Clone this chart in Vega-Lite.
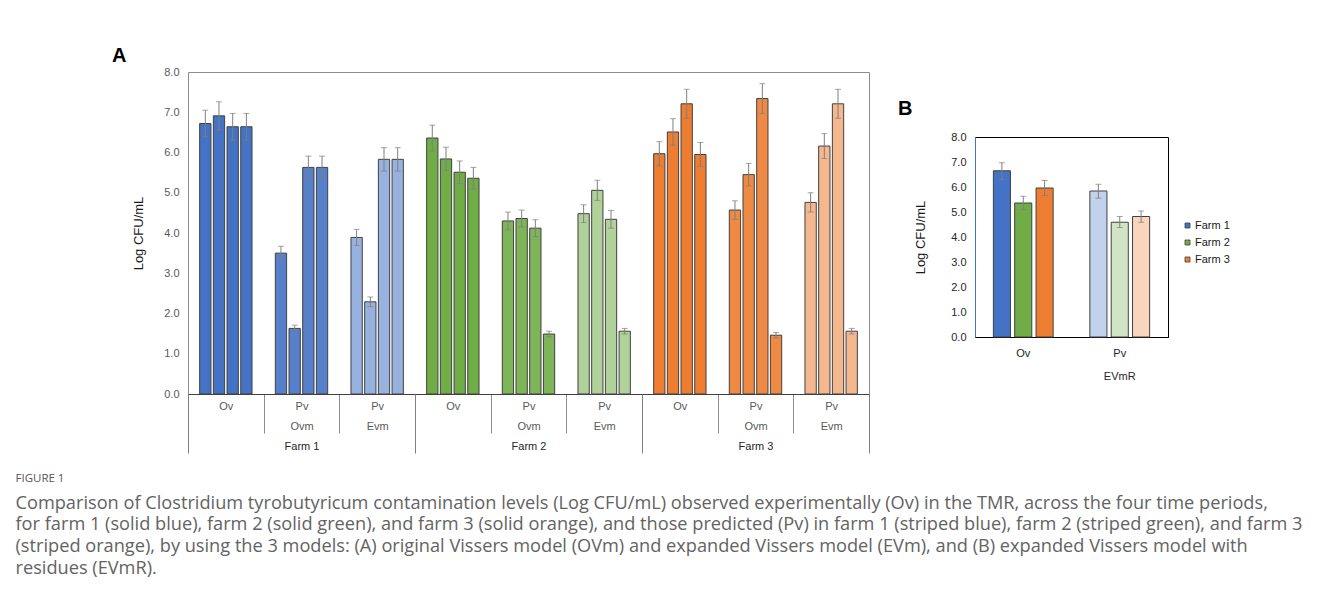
{
  "$schema": "https://vega.github.io/schema/vega-lite/v6.json",
  "background": "white",
  "padding": {"left": 15, "top": 45, "right": 0, "bottom": 12},
  "config": {
    "font": "Liberation Sans",
    "axis": {"grid": false},
    "axisY": {"tickCount": 9, "labelOverlap": false},
    "title": {"font": "Liberation Sans"}
  },
  "datasets": {
    "a": [
      {"farm": "Farm 1", "type": "Ov", "grp": "1|Ov", "period": 1, "v": 6.72, "lo": 6.39, "hi": 7.05},
      {"farm": "Farm 1", "type": "Ov", "grp": "1|Ov", "period": 2, "v": 6.91, "lo": 6.56, "hi": 7.26},
      {"farm": "Farm 1", "type": "Ov", "grp": "1|Ov", "period": 3, "v": 6.64, "lo": 6.31, "hi": 6.97},
      {"farm": "Farm 1", "type": "Ov", "grp": "1|Ov", "period": 4, "v": 6.64, "lo": 6.31, "hi": 6.97},
      {"farm": "Farm 1", "type": "Ovm", "grp": "1|Pv|Ovm", "period": 1, "v": 3.50, "lo": 3.33, "hi": 3.67},
      {"farm": "Farm 1", "type": "Ovm", "grp": "1|Pv|Ovm", "period": 2, "v": 1.63, "lo": 1.55, "hi": 1.71},
      {"farm": "Farm 1", "type": "Ovm", "grp": "1|Pv|Ovm", "period": 3, "v": 5.63, "lo": 5.35, "hi": 5.91},
      {"farm": "Farm 1", "type": "Ovm", "grp": "1|Pv|Ovm", "period": 4, "v": 5.63, "lo": 5.35, "hi": 5.91},
      {"farm": "Farm 1", "type": "Evm", "grp": "1|Pv|Evm", "period": 1, "v": 3.89, "lo": 3.69, "hi": 4.09},
      {"farm": "Farm 1", "type": "Evm", "grp": "1|Pv|Evm", "period": 2, "v": 2.29, "lo": 2.17, "hi": 2.41},
      {"farm": "Farm 1", "type": "Evm", "grp": "1|Pv|Evm", "period": 3, "v": 5.83, "lo": 5.54, "hi": 6.12},
      {"farm": "Farm 1", "type": "Evm", "grp": "1|Pv|Evm", "period": 4, "v": 5.83, "lo": 5.54, "hi": 6.12},
      {"farm": "Farm 2", "type": "Ov", "grp": "2|Ov", "period": 1, "v": 6.36, "lo": 6.04, "hi": 6.68},
      {"farm": "Farm 2", "type": "Ov", "grp": "2|Ov", "period": 2, "v": 5.84, "lo": 5.55, "hi": 6.13},
      {"farm": "Farm 2", "type": "Ov", "grp": "2|Ov", "period": 3, "v": 5.51, "lo": 5.23, "hi": 5.79},
      {"farm": "Farm 2", "type": "Ov", "grp": "2|Ov", "period": 4, "v": 5.36, "lo": 5.09, "hi": 5.63},
      {"farm": "Farm 2", "type": "Ovm", "grp": "2|Pv|Ovm", "period": 1, "v": 4.30, "lo": 4.08, "hi": 4.52},
      {"farm": "Farm 2", "type": "Ovm", "grp": "2|Pv|Ovm", "period": 2, "v": 4.36, "lo": 4.15, "hi": 4.57},
      {"farm": "Farm 2", "type": "Ovm", "grp": "2|Pv|Ovm", "period": 3, "v": 4.12, "lo": 3.91, "hi": 4.33},
      {"farm": "Farm 2", "type": "Ovm", "grp": "2|Pv|Ovm", "period": 4, "v": 1.49, "lo": 1.42, "hi": 1.56},
      {"farm": "Farm 2", "type": "Evm", "grp": "2|Pv|Evm", "period": 1, "v": 4.48, "lo": 4.26, "hi": 4.70},
      {"farm": "Farm 2", "type": "Evm", "grp": "2|Pv|Evm", "period": 2, "v": 5.06, "lo": 4.81, "hi": 5.31},
      {"farm": "Farm 2", "type": "Evm", "grp": "2|Pv|Evm", "period": 3, "v": 4.34, "lo": 4.12, "hi": 4.56},
      {"farm": "Farm 2", "type": "Evm", "grp": "2|Pv|Evm", "period": 4, "v": 1.56, "lo": 1.49, "hi": 1.63},
      {"farm": "Farm 3", "type": "Ov", "grp": "3|Ov", "period": 1, "v": 5.97, "lo": 5.67, "hi": 6.27},
      {"farm": "Farm 3", "type": "Ov", "grp": "3|Ov", "period": 2, "v": 6.51, "lo": 6.18, "hi": 6.84},
      {"farm": "Farm 3", "type": "Ov", "grp": "3|Ov", "period": 3, "v": 7.21, "lo": 6.85, "hi": 7.57},
      {"farm": "Farm 3", "type": "Ov", "grp": "3|Ov", "period": 4, "v": 5.95, "lo": 5.65, "hi": 6.25},
      {"farm": "Farm 3", "type": "Ovm", "grp": "3|Pv|Ovm", "period": 1, "v": 4.57, "lo": 4.34, "hi": 4.80},
      {"farm": "Farm 3", "type": "Ovm", "grp": "3|Pv|Ovm", "period": 2, "v": 5.45, "lo": 5.17, "hi": 5.73},
      {"farm": "Farm 3", "type": "Ovm", "grp": "3|Pv|Ovm", "period": 3, "v": 7.34, "lo": 6.97, "hi": 7.71},
      {"farm": "Farm 3", "type": "Ovm", "grp": "3|Pv|Ovm", "period": 4, "v": 1.46, "lo": 1.39, "hi": 1.53},
      {"farm": "Farm 3", "type": "Evm", "grp": "3|Pv|Evm", "period": 1, "v": 4.76, "lo": 4.52, "hi": 5.00},
      {"farm": "Farm 3", "type": "Evm", "grp": "3|Pv|Evm", "period": 2, "v": 6.16, "lo": 5.85, "hi": 6.47},
      {"farm": "Farm 3", "type": "Evm", "grp": "3|Pv|Evm", "period": 3, "v": 7.21, "lo": 6.85, "hi": 7.57},
      {"farm": "Farm 3", "type": "Evm", "grp": "3|Pv|Evm", "period": 4, "v": 1.56, "lo": 1.49, "hi": 1.63}
    ],
    "b": [
      {"farm": "Farm 1", "type": "Ov", "obs": "Ov", "v": 6.65, "lo": 6.30, "hi": 6.97},
      {"farm": "Farm 2", "type": "Ov", "obs": "Ov", "v": 5.36, "lo": 5.10, "hi": 5.63},
      {"farm": "Farm 3", "type": "Ov", "obs": "Ov", "v": 5.96, "lo": 5.66, "hi": 6.26},
      {"farm": "Farm 1", "type": "EVmR", "obs": "Pv|EVmR", "v": 5.84, "lo": 5.55, "hi": 6.11},
      {"farm": "Farm 2", "type": "EVmR", "obs": "Pv|EVmR", "v": 4.59, "lo": 4.38, "hi": 4.82},
      {"farm": "Farm 3", "type": "EVmR", "obs": "Pv|EVmR", "v": 4.82, "lo": 4.59, "hi": 5.04}
    ]
  },
  "title": {
    "text": "FIGURE 1",
    "subtitle": [
      "Comparison of Clostridium tyrobutyricum contamination levels (Log CFU/mL) observed experimentally (Ov) in the TMR, across the four time periods,",
      "for farm 1 (solid blue), farm 2 (solid green), and farm 3 (solid orange), and those predicted (Pv) in farm 1 (striped blue), farm 2 (striped green), and farm 3",
      "(striped orange), by using the 3 models: (A) original Vissers model (OVm) and expanded Vissers model (EVm), and (B) expanded Vissers model with",
      "residues (EVmR)."
    ],
    "orient": "bottom",
    "anchor": "start",
    "frame": "bounds",
    "offset": 19,
    "dx": -96,
    "font": "Open Sans",
    "fontSize": 11.5,
    "fontWeight": "normal",
    "color": "#555555",
    "subtitleFont": "Open Sans",
    "subtitleFontSize": 18.2,
    "subtitleColor": "#636363",
    "subtitleLineHeight": 21.7,
    "subtitlePadding": 10
  },
  "spacing": 27,
  "resolve": {"scale": {"fill": "independent", "fillOpacity": "independent", "xOffset": "independent"}},
  "hconcat": [
    {
      "width": 681,
      "height": 322,
      "title": {"text": "A", "anchor": "start", "frame": "group", "dx": -76, "fontSize": 20, "fontWeight": "bold", "color": "#000000", "offset": 0},
      "view": {"stroke": "#8c8c8c"},
      "data": {"name": "a"},
      "resolve": {"scale": {"x": "independent"}},
      "layer": [
        {
          "layer": [
            {
              "mark": {"type": "bar", "stroke": "#404040", "strokeWidth": 1},
              "encoding": {
                "x": {
                  "field": "grp", "type": "nominal",
                  "scale": {"type": "band", "domain": ["1|Ov", "1|Pv|Ovm", "1|Pv|Evm", "2|Ov", "2|Pv|Ovm", "2|Pv|Evm", "3|Ov", "3|Pv|Ovm", "3|Pv|Evm"], "paddingInner": 0, "paddingOuter": 0},
                  "axis": {
                    "title": null, "domainColor": "#404040", "domainWidth": 1,
                    "ticks": true, "tickBand": "extent", "tickSize": 39, "tickColor": "#8c8c8c", "tickWidth": 1,
                    "labelExpr": "slice(split(datum.label, '|'), 1)",
                    "labelAngle": 0, "labelBaseline": "top", "labelPadding": -32.5, "labelLineHeight": 19.5,
                    "labelFontSize": 11, "labelColor": "#595959"
                  }
                },
                "xOffset": {"field": "period", "type": "ordinal", "scale": {"paddingInner": 0.175, "paddingOuter": 0.85}},
                "y": {
                  "field": "v", "type": "quantitative",
                  "scale": {"domain": [0, 8], "nice": false},
                  "axis": {
                    "title": "Log CFU/mL", "titleFontSize": 13, "titleFontWeight": "normal", "titleColor": "#1a1a1a", "titlePadding": 18,
                    "values": [0, 1, 2, 3, 4, 5, 6, 7, 8], "tickCount": 9, "format": ".1f", "labelOverlap": false,
                    "labelFontSize": 11, "labelColor": "#595959", "labelPadding": 9, "ticks": false, "domain": false
                  }
                },
                "fill": {"field": "farm", "type": "nominal", "scale": {"domain": ["Farm 1", "Farm 2", "Farm 3"], "range": ["#4472C4", "#70AD47", "#ED7D31"]}, "legend": null},
                "fillOpacity": {"field": "type", "type": "nominal", "scale": {"type": "ordinal", "domain": ["Ov", "Ovm", "Evm"], "range": [1, 0.9, 0.55]}, "legend": null}
              }
            },
            {
              "mark": {"type": "rule", "color": "#7f7f7f", "strokeWidth": 1},
              "encoding": {
                "x": {"field": "grp", "type": "nominal", "scale": {"type": "band", "domain": ["1|Ov", "1|Pv|Ovm", "1|Pv|Evm", "2|Ov", "2|Pv|Ovm", "2|Pv|Evm", "3|Ov", "3|Pv|Ovm", "3|Pv|Evm"], "paddingInner": 0, "paddingOuter": 0}},
                "xOffset": {"field": "period", "type": "ordinal"},
                "y": {"field": "lo", "type": "quantitative", "scale": {"domain": [0, 8], "nice": false}},
                "y2": {"field": "hi"}
              }
            },
            {
              "mark": {"type": "tick", "color": "#7f7f7f", "thickness": 1, "size": 6, "orient": "horizontal"},
              "encoding": {
                "x": {"field": "grp", "type": "nominal", "scale": {"type": "band", "domain": ["1|Ov", "1|Pv|Ovm", "1|Pv|Evm", "2|Ov", "2|Pv|Ovm", "2|Pv|Evm", "3|Ov", "3|Pv|Ovm", "3|Pv|Evm"], "paddingInner": 0, "paddingOuter": 0}},
                "xOffset": {"field": "period", "type": "ordinal"},
                "y": {"field": "lo", "type": "quantitative", "scale": {"domain": [0, 8], "nice": false}}
              }
            },
            {
              "mark": {"type": "tick", "color": "#7f7f7f", "thickness": 1, "size": 6, "orient": "horizontal"},
              "encoding": {
                "x": {"field": "grp", "type": "nominal", "scale": {"type": "band", "domain": ["1|Ov", "1|Pv|Ovm", "1|Pv|Evm", "2|Ov", "2|Pv|Ovm", "2|Pv|Evm", "3|Ov", "3|Pv|Ovm", "3|Pv|Evm"], "paddingInner": 0, "paddingOuter": 0}},
                "xOffset": {"field": "period", "type": "ordinal"},
                "y": {"field": "hi", "type": "quantitative", "scale": {"domain": [0, 8], "nice": false}}
              }
            }
          ]
        },
        {
          "mark": {"type": "bar", "opacity": 0},
          "encoding": {
            "x": {
              "field": "farm", "type": "nominal",
              "scale": {"type": "band", "domain": ["Farm 1", "Farm 2", "Farm 3"], "paddingInner": 0, "paddingOuter": 0},
              "axis": {
                "orient": "bottom", "title": null, "domain": false,
                "ticks": true, "tickBand": "extent", "tickSize": 59, "tickColor": "#7f7f7f", "tickWidth": 1,
                "labelAngle": 0, "labelBaseline": "top", "labelPadding": -12.5, "labelFontSize": 11, "labelColor": "#262626"
              }
            }
          }
        }
      ]
    },
    {
      "spacing": 0,
      "vconcat": [
        {
          "width": 193,
          "height": 25.5,
          "view": {"stroke": null},
          "data": {"values": [{}]},
          "mark": {"type": "point", "opacity": 0},
          "encoding": {}
        },
        {
          "width": 193,
          "height": 200,
          "title": {"text": "B", "anchor": "start", "frame": "group", "dx": -77, "fontSize": 20, "fontWeight": "bold", "color": "#000000", "offset": 12},
          "view": {"stroke": "#000000"},
          "data": {"name": "b"},
          "layer": [
            {
              "mark": {"type": "bar", "stroke": "#404040", "strokeWidth": 1},
              "encoding": {
                "x": {
                  "field": "obs", "type": "nominal",
                  "scale": {"type": "band", "domain": ["Ov", "Pv|EVmR"], "paddingInner": 0, "paddingOuter": 0},
                  "axis": {
                    "title": null, "domainColor": "#000000", "ticks": false,
                    "labelExpr": "split(datum.label, '|')",
                    "labelAngle": 0, "labelBaseline": "top", "labelPadding": 10, "labelLineHeight": 23,
                    "labelFontSize": 11, "labelColor": "#262626"
                  }
                },
                "xOffset": {"field": "farm", "type": "nominal", "scale": {"domain": ["Farm 1", "Farm 2", "Farm 3"], "paddingInner": 0.2, "paddingOuter": 0.86}},
                "y": {
                  "field": "v", "type": "quantitative",
                  "scale": {"domain": [0, 8], "nice": false},
                  "axis": {
                    "title": "Log CFU/mL", "titleFontSize": 13, "titleFontWeight": "normal", "titleColor": "#1a1a1a", "titlePadding": 23,
                    "values": [0, 1, 2, 3, 4, 5, 6, 7, 8], "tickCount": 9, "format": ".1f", "labelOverlap": false,
                    "labelFontSize": 11, "labelColor": "#262626", "labelPadding": 9, "ticks": false, "domain": true, "domainColor": "#4472C4"
                  }
                },
                "fill": {
                  "field": "farm", "type": "nominal",
                  "scale": {"domain": ["Farm 1", "Farm 2", "Farm 3"], "range": ["#4472C4", "#70AD47", "#ED7D31"]},
                  "legend": {
                    "title": null, "orient": "none", "legendX": 207, "legendY": 148, "padding": 0,
                    "symbolType": "square", "symbolSize": 25, "symbolStrokeColor": "#404040", "symbolStrokeWidth": 0.8,
                    "labelFontSize": 11, "labelColor": "#1a1a1a", "labelOffset": 2, "rowPadding": 5
                  }
                },
                "fillOpacity": {"field": "type", "type": "nominal", "scale": {"type": "ordinal", "domain": ["Ov", "EVmR"], "range": [1, 0.32]}, "legend": null}
              }
            },
            {
              "mark": {"type": "rule", "color": "#7f7f7f", "strokeWidth": 1},
              "encoding": {
                "x": {"field": "obs", "type": "nominal", "scale": {"type": "band", "domain": ["Ov", "Pv|EVmR"], "paddingInner": 0, "paddingOuter": 0}},
                "xOffset": {"field": "farm", "type": "nominal"},
                "y": {"field": "lo", "type": "quantitative", "scale": {"domain": [0, 8], "nice": false}},
                "y2": {"field": "hi"}
              }
            },
            {
              "mark": {"type": "tick", "color": "#7f7f7f", "thickness": 1, "size": 6, "orient": "horizontal"},
              "encoding": {
                "x": {"field": "obs", "type": "nominal", "scale": {"type": "band", "domain": ["Ov", "Pv|EVmR"], "paddingInner": 0, "paddingOuter": 0}},
                "xOffset": {"field": "farm", "type": "nominal"},
                "y": {"field": "lo", "type": "quantitative", "scale": {"domain": [0, 8], "nice": false}}
              }
            },
            {
              "mark": {"type": "tick", "color": "#7f7f7f", "thickness": 1, "size": 6, "orient": "horizontal"},
              "encoding": {
                "x": {"field": "obs", "type": "nominal", "scale": {"type": "band", "domain": ["Ov", "Pv|EVmR"], "paddingInner": 0, "paddingOuter": 0}},
                "xOffset": {"field": "farm", "type": "nominal"},
                "y": {"field": "hi", "type": "quantitative", "scale": {"domain": [0, 8], "nice": false}}
              }
            }
          ]
        }
      ]
    }
  ]
}
